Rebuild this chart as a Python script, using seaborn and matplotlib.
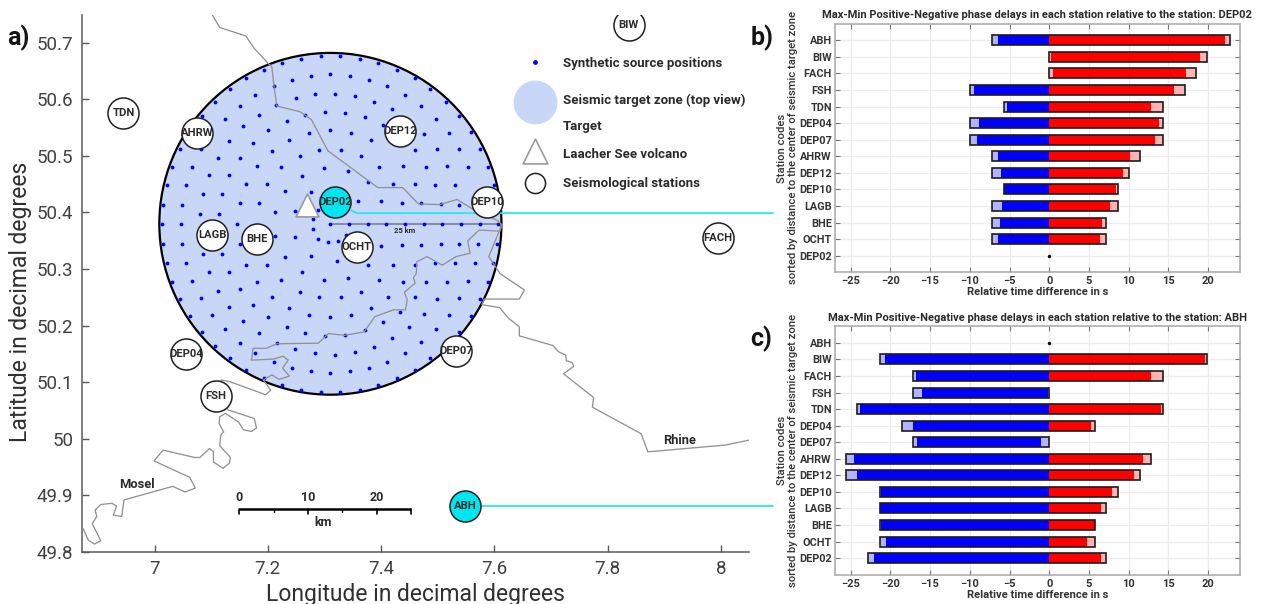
import numpy as np
import pandas as pd
import matplotlib
matplotlib.use("Agg")
import matplotlib.pyplot as plt
from matplotlib.patches import Circle
import seaborn as sns

# ---------- map data ----------
station_codes = ["TDN", "AHRW", "DEP12", "DEP02", "DEP10", "LAGB", "BHE", "OCHT",
                 "BIW", "FACH", "DEP04", "FSH", "DEP07", "ABH"]
station_lon = [6.945, 7.075, 7.434, 7.3186, 7.5866, 7.102, 7.180, 7.357,
               7.837, 7.994, 7.056, 7.108, 7.532, 7.548]
station_lat = [50.575, 50.541, 50.544, 50.418, 50.419, 50.360, 50.354, 50.339,
               50.731, 50.355, 50.150, 50.076, 50.155, 49.882]
target_stations = ["DEP02", "ABH"]

volcano_lon = [7.269]
volcano_lat = [50.413]
zone_lon, zone_lat, zone_radius = 7.3104, 50.38, 0.302

source_points = [
 (7.293,50.676),(7.258,50.671),(7.225,50.664),(7.193,50.652),(7.162,50.637),(7.133,50.618),(7.107,50.595),(7.083,50.570),
 (7.276,50.641),(7.242,50.635),(7.310,50.644),(7.210,50.624),(7.178,50.608),(7.150,50.589),
 (7.284,50.609),(7.249,50.602),(7.215,50.590),(7.185,50.573),(7.124,50.566),
 (7.301,50.578),(7.266,50.573),(7.233,50.562),(7.157,50.552),
 (7.310,50.545),(7.273,50.540),(7.201,50.545),(7.132,50.527),
 (7.238,50.528),(7.174,50.523),(7.045,50.513),(7.082,50.512),
 (7.291,50.510),(7.207,50.509),(7.112,50.497),(7.150,50.496),
 (7.256,50.499),(7.300,50.478),(7.224,50.480),(7.181,50.483),(7.031,50.481),(7.066,50.480),
 (7.260,50.465),(7.096,50.466),(7.132,50.466),
 (7.022,50.448),(7.055,50.448),(7.162,50.451),(7.199,50.451),
 (7.230,50.438),(7.086,50.432),(7.119,50.433),(7.277,50.437),
 (7.015,50.414),(7.049,50.414),(7.150,50.416),(7.184,50.417),
 (7.213,50.400),(7.080,50.397),(7.113,50.397),(7.248,50.403),(7.289,50.404),
 (7.279,50.389),(7.013,50.380),(7.046,50.380),(7.145,50.380),
 (7.327,50.676),(7.362,50.671),(7.395,50.664),(7.428,50.652),(7.459,50.637),(7.487,50.618),(7.514,50.595),(7.537,50.570),
 (7.345,50.641),(7.378,50.635),(7.411,50.624),(7.442,50.608),(7.471,50.589),(7.496,50.566),
 (7.319,50.610),(7.354,50.606),(7.388,50.596),(7.420,50.582),(7.404,50.554),(7.337,50.576),(7.372,50.568),
 (7.347,50.540),(7.382,50.528),(7.476,50.539),(7.519,50.540),(7.558,50.543),
 (7.575,50.513),(7.538,50.512),(7.499,50.513),(7.459,50.510),(7.329,50.510),(7.365,50.499),
 (7.341,50.474),(7.396,50.480),(7.439,50.483),(7.480,50.481),(7.517,50.482),(7.554,50.480),(7.589,50.481),
 (7.376,50.453),(7.421,50.451),(7.459,50.451),(7.495,50.449),(7.531,50.449),(7.599,50.448),
 (7.360,50.421),(7.400,50.420),(7.437,50.417),(7.471,50.416),(7.505,50.415),(7.538,50.414),(7.610,50.403),
 (7.310,50.380),(7.343,50.380),(7.376,50.380),(7.409,50.380),(7.442,50.380),(7.475,50.380),(7.508,50.380),(7.541,50.380),(7.574,50.380),(7.607,50.380),
 (7.015,50.345),(7.049,50.345),(7.150,50.344),(7.213,50.359),(7.248,50.357),(7.279,50.370),(7.289,50.354),(7.306,50.347),
 (7.086,50.327),(7.119,50.327),(7.230,50.322),(7.277,50.323),
 (7.022,50.311),(7.055,50.311),(7.162,50.308),(7.199,50.308),
 (7.096,50.294),(7.132,50.294),(7.261,50.294),
 (7.031,50.278),(7.066,50.279),(7.181,50.277),(7.224,50.280),(7.300,50.281),
 (7.112,50.262),(7.150,50.264),(7.256,50.260),
 (7.045,50.247),(7.082,50.248),(7.207,50.251),(7.291,50.250),
 (7.132,50.233),(7.174,50.237),(7.238,50.231),
 (7.062,50.217),(7.101,50.219),(7.201,50.215),(7.273,50.219),(7.310,50.215),
 (7.157,50.208),(7.233,50.198),
 (7.083,50.189),(7.124,50.194),(7.185,50.187),(7.266,50.187),(7.301,50.182),
 (7.150,50.170),(7.216,50.169),(7.107,50.164),
 (7.178,50.152),(7.248,50.158),(7.284,50.151),(7.319,50.149),
 (7.133,50.142),(7.210,50.136),
 (7.242,50.125),(7.162,50.122),(7.276,50.119),(7.310,50.117),
 (7.193,50.107),(7.225,50.096),(7.258,50.087),(7.293,50.083),
 (7.324,50.350),(7.338,50.361),(7.400,50.340),(7.436,50.343),(7.471,50.343),(7.505,50.344),(7.538,50.344),(7.571,50.345),(7.605,50.345),
 (7.322,50.315),(7.376,50.307),(7.421,50.308),(7.459,50.308),(7.495,50.310),(7.530,50.310),(7.565,50.311),(7.598,50.311),
 (7.341,50.285),(7.396,50.280),(7.439,50.277),(7.480,50.278),(7.517,50.277),(7.554,50.279),(7.589,50.278),
 (7.365,50.260),(7.413,50.251),(7.329,50.250),(7.459,50.250),(7.499,50.247),(7.538,50.248),(7.575,50.247),
 (7.382,50.231),(7.433,50.225),(7.347,50.219),(7.476,50.220),(7.519,50.219),(7.558,50.217),
 (7.404,50.206),(7.450,50.197),(7.496,50.194),(7.537,50.188),(7.371,50.192),(7.337,50.184),
 (7.420,50.178),(7.471,50.171),(7.388,50.163),(7.354,50.153),(7.442,50.151),
 (7.487,50.142),(7.411,50.136),(7.378,50.125),(7.345,50.119),(7.459,50.122),(7.428,50.107),(7.395,50.096),(7.362,50.087),(7.327,50.083),
]

rhine = [
 (7.102,50.749),(7.115,50.727),(7.161,50.712),(7.176,50.690),(7.201,50.663),(7.207,50.658),(7.211,50.622),(7.216,50.588),
 (7.257,50.578),(7.277,50.564),(7.306,50.509),(7.394,50.444),(7.438,50.444),(7.466,50.415),(7.504,50.414),(7.534,50.423),
 (7.560,50.407),(7.607,50.385),(7.613,50.378),(7.590,50.322),(7.610,50.292),(7.653,50.263),(7.644,50.247),(7.582,50.247),
 (7.578,50.237),(7.609,50.232),(7.625,50.213),(7.644,50.198),(7.644,50.182),(7.703,50.165),(7.713,50.154),(7.726,50.148),
 (7.727,50.138),(7.737,50.135),(7.740,50.128),(7.722,50.115),(7.775,50.073),(7.773,50.056),(7.859,50.009),(7.871,49.977),
 (8.008,49.989),(8.051,49.998),
]
mosel = [
 (7.613,50.378),(7.610,50.367),(7.573,50.369),(7.553,50.350),(7.557,50.328),(7.532,50.322),(7.508,50.307),(7.481,50.322),
 (7.463,50.313),(7.462,50.292),(7.457,50.285),(7.460,50.275),(7.441,50.259),(7.446,50.246),(7.443,50.228),(7.422,50.228),
 (7.389,50.216),(7.370,50.189),(7.336,50.183),(7.307,50.186),(7.289,50.169),(7.216,50.168),(7.197,50.160),(7.174,50.160),
 (7.171,50.139),(7.210,50.141),(7.227,50.146),(7.236,50.139),(7.226,50.125),(7.238,50.111),(7.220,50.105),(7.207,50.113),
 (7.192,50.104),(7.205,50.086),(7.196,50.078),(7.133,50.101),(7.118,50.104),(7.108,50.076),(7.130,50.051),(7.176,50.036),
 (7.180,50.019),(7.171,50.013),(7.157,50.016),(7.148,50.030),(7.125,50.045),(7.115,50.039),(7.114,50.027),(7.122,50.012),
 (7.117,50.007),(7.115,49.988),(7.134,49.967),(7.132,49.957),(7.121,49.948),(7.104,49.959),(7.104,49.977),(7.097,49.983),
 (7.080,49.967),(7.071,49.967),(7.015,49.980),(6.999,49.961),(7.062,49.932),(7.072,49.913),(7.054,49.906),(7.032,49.916),
 (6.946,49.892),(6.942,49.863),(6.927,49.865),(6.933,49.881),(6.925,49.886),(6.905,49.884),(6.895,49.874),(6.898,49.863),
 (6.890,49.850),(6.905,49.820),(6.894,49.814),(6.883,49.821),(6.874,49.841),
]
link_dep02 = [(7.3186,50.418),(7.345,50.404),(7.358,50.399),(8.092,50.399)]
link_abh = [(7.548,49.882),(8.092,49.882)]
radius_line = [(7.3104,50.38),(7.612,50.38)]

# scale bar, in degrees of longitude along the bar
scale_lat = 49.876
scale_major = [7.1495, 7.2709, 7.3923]
scale_minor = [7.2102, 7.3316]
scale_end = 7.4530
scale_labels = ["0", "10", "20"]

# ---------- delay data (s) ----------
codes_b = ["ABH","BIW","FACH","FSH","TDN","DEP04","DEP07","AHRW","DEP12","DEP10","LAGB","BHE","OCHT","DEP02"]
min_neg_b = [-7.2, 0, 0, -10, -5.7, -10, -10, -7.2, -7.2, -5.7, -7.2, -7.2, -7.2, 0]
core_neg_b = [-6.45, 0, 0, -9.5, -5.35, -8.9, -9.1, -6.4, -6.1, -5.7, -6.0, -6.2, -6.4, 0]
core_pos_start_b = [0, 0.2, 0.5, 0, 0, 0, 0, 0, 0, 0, 0, 0, 0, 0]
core_pos_b = [22.07, 19.0, 17.2, 15.75, 12.8, 13.8, 13.3, 10.2, 9.25, 8.4, 7.6, 6.65, 6.35, 0]
max_pos_b = [22.8, 19.9, 18.5, 17.1, 14.3, 14.3, 14.3, 11.4, 10.0, 8.6, 8.6, 7.15, 7.15, 0]

codes_c = ["ABH","BIW","FACH","FSH","TDN","DEP04","DEP07","AHRW","DEP12","DEP10","LAGB","BHE","OCHT","DEP02"]
min_neg_c = [0, -21.35, -17.1, -17.1, -24.2, -18.5, -17.1, -25.6, -25.6, -21.35, -21.35, -21.35, -21.35, -22.8]
core_neg_c = [0, -20.7, -16.8, -16.0, -23.8, -17.1, -16.6, -24.6, -24.2, -21.15, -21.35, -21.15, -20.5, -22.05]
core_neg_end_c = [0, 0, 0, -0.1, 0, 0, -1.0, 0, 0, 0, 0, 0, 0, 0]
core_pos_c = [0, 19.55, 12.8, 0, 14.05, 5.25, 0, 11.8, 10.7, 7.9, 6.45, 5.7, 4.75, 6.5]
max_pos_c = [0, 19.9, 14.3, 0, 14.3, 5.8, 0, 12.8, 11.4, 8.6, 7.15, 5.8, 5.8, 7.15]

# ---------- style ----------
sns.set_theme(style="ticks")
plt.rcParams["font.family"] = ["Roboto", "DejaVu Sans"]
TXT = "#2a2a2a"
GRID = "#ececec"
FRAME = "#a8a8a8"
RIVER = "#929292"
W, H = 1261, 604
fig = plt.figure(figsize=(W / 100, H / 100), dpi=100)

def axes_px(x0, y0, x1, y1):
    return fig.add_axes([x0 / W, 1 - y1 / H, (x1 - x0) / W, (y1 - y0) / H])

# ---------- panel a ----------
ax = axes_px(81.5, 15, 749.3, 552)
ax.set_xlim(6.871, 8.05)
ax.set_ylim(49.8, 50.749)
ax.add_patch(Circle((zone_lon, zone_lat), zone_radius, facecolor="#c8d7f7", edgecolor="black", lw=1.6, zorder=1))

src = np.array(source_points)
sns.scatterplot(x=src[:, 0], y=src[:, 1], s=7.5, color="#0000ff", linewidth=0, ax=ax, zorder=2)

for name, path in (("rhine", rhine), ("mosel", mosel)):
    p = np.array(path)
    sns.lineplot(x=p[:, 0], y=p[:, 1], sort=False, estimator=None, color=RIVER, lw=0.95, ax=ax, zorder=3)

for path in (link_dep02, link_abh):
    p = np.array(path)
    sns.lineplot(x=p[:, 0], y=p[:, 1], sort=False, estimator=None, color="#27e8f2", lw=1.3, ax=ax,
                 zorder=3.5, clip_on=False)
p = np.array(radius_line)
sns.lineplot(x=p[:, 0], y=p[:, 1], sort=False, estimator=None, color="#77778a", lw=1.1, ax=ax, zorder=1.5)
ax.text(7.441, 50.368, "25 km", fontsize=5.5, fontweight="bold", color=TXT, ha="center", va="center", zorder=4)

sns.scatterplot(x=volcano_lon, y=volcano_lat, marker="^", s=270, color="white", edgecolor="#9a9a9a", linewidth=1.2,
                ax=ax, zorder=5)

st_df = pd.DataFrame({"lon": station_lon, "lat": station_lat, "code": station_codes})
plain = st_df[~st_df.code.isin(target_stations)]
tgt = st_df[st_df.code.isin(target_stations)]
sns.scatterplot(data=plain, x="lon", y="lat", s=500, color="white", edgecolor="#202020", linewidth=1.1, ax=ax, zorder=6)
sns.scatterplot(data=tgt, x="lon", y="lat", s=500, color="#00e6f0", edgecolor="#202020", linewidth=1.1, ax=ax, zorder=6)
for lon, lat, code in zip(station_lon, station_lat, station_codes):
    ax.text(lon, lat, code, fontsize=8.1, fontweight="bold", color=TXT, ha="center", va="center", zorder=7)

ax.text(6.969, 49.920, "Mosel", fontsize=9.3, fontweight="bold", color=TXT, ha="center", va="center")
ax.text(7.926, 49.997, "Rhine", fontsize=9.3, fontweight="bold", color=TXT, ha="center", va="center")

# scale bar
ax.plot([scale_major[0], scale_end], [scale_lat, scale_lat], color="black", lw=1.8, solid_capstyle="butt")
for s in scale_major + [scale_end]:
    ax.plot([s, s], [scale_lat, scale_lat - 0.0085], color="black", lw=1.2)
for s in scale_minor:
    ax.plot([s, s], [scale_lat, scale_lat - 0.005], color="black", lw=1.0)
for s, lab in zip(scale_major, scale_labels):
    ax.text(s, scale_lat + 0.008, lab, fontsize=9, fontweight="bold", color=TXT, ha="center", va="bottom")
ax.text((scale_major[0] + scale_end) / 2 - 0.003, scale_lat - 0.023, "km", fontsize=9, fontweight="bold", color=TXT,
        ha="center", va="center")

# legend
leg_x, txt_x = 7.672, 7.721
sns.scatterplot(x=[leg_x], y=[50.666], s=12, color="#0000ff", linewidth=0, ax=ax)
sns.scatterplot(x=[leg_x], y=[50.595], s=1000, color="#c8d7f7", linewidth=0, ax=ax)
sns.scatterplot(x=[leg_x], y=[50.508], marker="^", s=320, color="white", edgecolor="#9a9a9a", linewidth=1.2, ax=ax)
sns.scatterplot(x=[leg_x], y=[50.452], s=210, color="white", edgecolor="#202020", linewidth=1.1, ax=ax)
for lat, lab in [(50.664, "Synthetic source positions"), (50.599, "Seismic target zone (top view)"),
                 (50.552, "Target"), (50.503, "Laacher See volcano"), (50.452, "Seismological stations")]:
    ax.text(txt_x, lat, lab, fontsize=9.5, fontweight="bold", color=TXT, ha="left", va="center")

for side in ("top", "right"):
    ax.spines[side].set_visible(False)
for side in ("left", "bottom"):
    ax.spines[side].set_color("#5a5a5a")
    ax.spines[side].set_linewidth(1.1)
ax.set_xticks([7, 7.2, 7.4, 7.6, 7.8, 8])
ax.set_xticklabels(["7", "7.2", "7.4", "7.6", "7.8", "8"])
ax.set_yticks([49.8, 49.9, 50, 50.1, 50.2, 50.3, 50.4, 50.5, 50.6, 50.7])
ax.set_yticklabels(["49.8", "49.9", "50", "50.1", "50.2", "50.3", "50.4", "50.5", "50.6", "50.7"])
ax.tick_params(direction="in", length=5, width=1, color="#5a5a5a", labelsize=13.5, labelcolor="#404040", pad=6)
ax.set_xlabel("Longitude in decimal degrees", fontsize=16.5, color="#303030", labelpad=3)
ax.set_ylabel("Latitude in decimal degrees", fontsize=16.5, color="#303030")
ax.yaxis.set_label_coords(-0.074, 0.465)
ax.patch.set_alpha(0)

# ---------- panels b, c ----------
def delay_panel(box, codes, mn, cn, cp, mx, cp0, cn1, title):
    ax = axes_px(*box)
    df = pd.DataFrame({"code": codes, "mn": mn, "cn": cn, "cp": cp, "mx": mx})
    pos = np.arange(len(codes))
    common = dict(data=df, y="code", order=codes, orient="y", width=0.6, saturation=1, ax=ax, errorbar=None, linewidth=0)
    sns.barplot(x="mn", color="#b3b3ff", **common)
    sns.barplot(x="mx", color="#ffb3b3", **common)
    ax.barh(pos, np.array(cn) - np.array(cn1), left=cn1, height=0.6, color="#0000ff", lw=0, zorder=3)
    ax.barh(pos, np.array(cp) - np.array(cp0), left=cp0, height=0.6, color="#ff0000", lw=0, zorder=3)
    keep = np.array(mx) - np.array(mn) > 0
    ax.barh(pos[keep], (np.array(mx) - np.array(mn))[keep], left=np.array(mn)[keep], height=0.6, fill=False,
            edgecolor="#1c1c1c", lw=1.2, zorder=4)
    ref = pos[~keep]
    sns.scatterplot(x=np.zeros(len(ref)), y=ref, s=6, color="black", linewidth=0, ax=ax, zorder=5)
    ax.set_axisbelow(True)
    ax.grid(True, axis="both", color=GRID, lw=0.9)
    ax.set_xlim(-27, 24)
    ax.set_ylim(14, -1)
    ax.set_xticks(np.arange(-25, 21, 5))
    ax.set_yticks(pos)
    ax.set_yticklabels(codes)
    ax.tick_params(direction="in", length=3.5, width=0.8, color="#777777", top=True, right=True, labelcolor="#333333",
                   pad=3)
    ax.tick_params(axis="x", labelsize=8.0)
    ax.tick_params(axis="y", labelsize=7.8, pad=2)
    for lab in ax.get_xticklabels() + ax.get_yticklabels():
        lab.set_fontweight("bold")
    for s in ax.spines.values():
        s.set_color(FRAME)
        s.set_linewidth(1.1)
    ax.set_title(title, fontsize=8.0, fontweight="bold", color=TXT, pad=4)
    ax.set_xlabel("Relative time difference in s", fontsize=8.1, fontweight="bold", color="#333333", labelpad=0.5)
    ax.set_ylabel("Station codes\nsorted by distance to the center of seismic target zone", fontsize=8.1,
                  color="#333333", fontweight="medium", linespacing=1.1)
    ax.yaxis.set_label_coords(-0.0905, 0.5)
    return ax

delay_panel((834.7, 23.7, 1240, 272.3), codes_b, min_neg_b, core_neg_b, core_pos_b, max_pos_b, core_pos_start_b,
            [0] * 14, "Max-Min Positive-Negative phase delays in each station relative to the station: DEP02")
delay_panel((834.7, 326.3, 1240, 574.7), codes_c, min_neg_c, core_neg_c, core_pos_c, max_pos_c, [0] * 14,
            core_neg_end_c, "Max-Min Positive-Negative phase delays in each station relative to the station: ABH")

fig.text(7 / W, 1 - 38 / H, "a)", fontsize=18, fontweight="bold", color="#151515", va="center")
fig.text(751 / W, 1 - 38 / H, "b)", fontsize=18, fontweight="bold", color="#151515", va="center")
fig.text(750 / W, 1 - 339 / H, "c)", fontsize=18, fontweight="bold", color="#151515", va="center")

fig.savefig("out.png", dpi=100)
